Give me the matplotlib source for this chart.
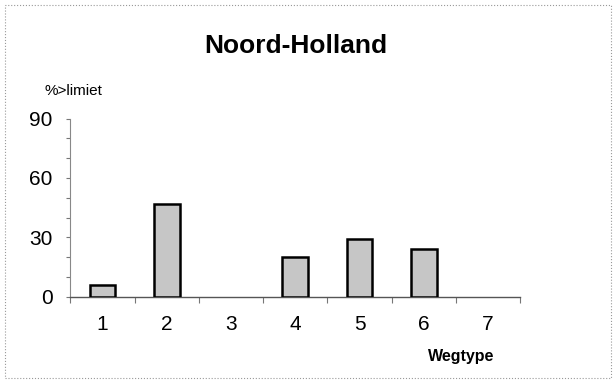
import matplotlib
matplotlib.use("Agg")
import matplotlib.pyplot as plt
from matplotlib.patches import Rectangle
from matplotlib.ticker import MultipleLocator

plt.rcParams['font.family'] = ['Liberation Sans', 'DejaVu Sans']

categories = ['1', '2', '3', '4', '5', '6', '7']
values = [6, 47, 0, 20, 29, 24, 0]
yticks = [0, 30, 60, 90]
title = 'Noord-Holland'
ylabel = '%>limiet'
xlabel = 'Wegtype'

fig = plt.figure(figsize=(6.16, 3.83), dpi=100)
ax = fig.add_axes([0.1144, 0.2258, 0.730, 0.4642])

x = list(range(len(categories)))
edge_w = [1.8 if v > 0 else 0 for v in values]
ax.bar(x, values, width=0.4, color='#c6c6c6', edgecolor='black', linewidth=edge_w, zorder=3)

ax.set_xlim(-0.5, len(categories) - 0.5)
ax.set_ylim(0, 90)
ax.set_yticks(yticks)
ax.yaxis.set_minor_locator(MultipleLocator(10))
ax.set_xticks(x)
ax.set_xticklabels(categories, fontsize=15)
ax.set_yticklabels([str(v) for v in yticks], fontsize=15)

# boundary ticks on x axis
ax.set_xticks([i + 0.5 for i in range(-1, len(categories))], minor=True)
ax.tick_params(axis='x', which='major', length=0, pad=13)
ax.tick_params(axis='x', which='minor', length=4, width=0.8, color='#777777', direction='out')
ax.tick_params(axis='y', which='both', length=3, width=0.8, color='#777777', direction='out', pad=10)

for s in ['top', 'right']:
    ax.spines[s].set_visible(False)
ax.spines['left'].set_color('#888888')
ax.spines['left'].set_linewidth(0.8)
ax.spines['bottom'].set_color('#555555')
ax.spines['bottom'].set_linewidth(1.0)

fig.text(0.481, 0.88, title, ha='center', va='center', fontsize=19, fontweight='bold')
fig.text(0.073, 0.762, ylabel, ha='left', va='center', fontsize=11)
fig.text(0.802, 0.068, xlabel, ha='right', va='center', fontsize=11.5, fontweight='bold')

border = Rectangle((0.008, 0.012), 0.984, 0.976, transform=fig.transFigure,
                   fill=False, edgecolor='#999999', linewidth=0.8, linestyle=':')
fig.patches.append(border)

fig.savefig('out.png', dpi=100)
